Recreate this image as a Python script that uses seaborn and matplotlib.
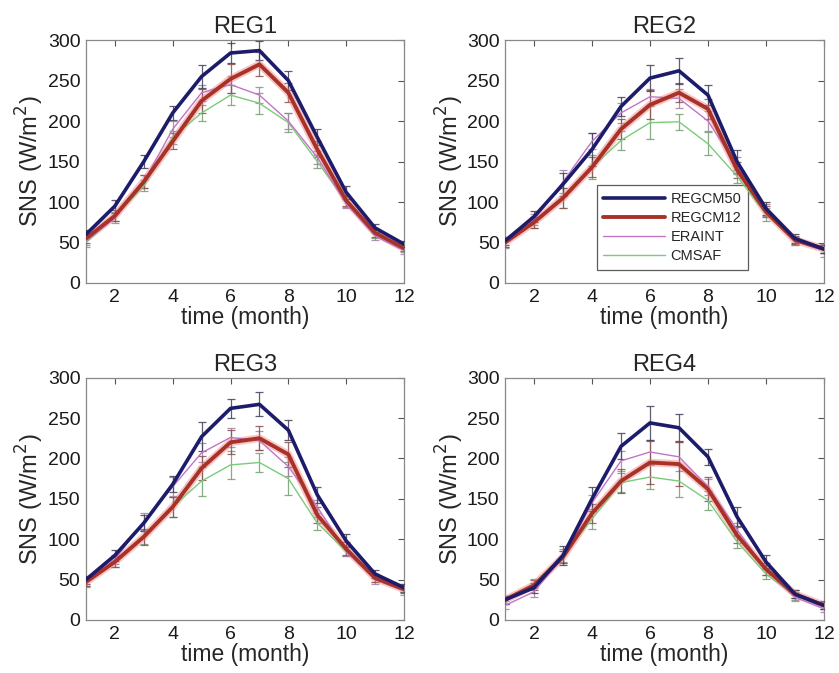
import numpy as np
import pandas as pd
import matplotlib
matplotlib.use("Agg")
import matplotlib.pyplot as plt
import seaborn as sns

# monthly SNS (W/m2) per region
months = np.arange(1, 13)
regions = ["REG1", "REG2", "REG3", "REG4"]
series = ["REGCM50", "REGCM12", "ERAINT", "CMSAF"]

reg1_regcm50 = [60, 95, 150, 210, 255, 284, 287, 250, 180, 112, 68, 48]
reg1_regcm12 = [55, 83, 125, 175, 225, 252, 270, 235, 165, 102, 62, 43]
reg1_eraint = [52, 80, 125, 190, 235, 245, 232, 200, 155, 98, 58, 40]
reg1_cmsaf = [50, 82, 120, 180, 210, 232, 222, 198, 150, 100, 60, 42]

reg2_regcm50 = [52, 82, 122, 165, 218, 253, 262, 232, 150, 92, 55, 42]
reg2_regcm12 = [50, 75, 105, 143, 190, 220, 235, 215, 140, 88, 53, 42]
reg2_eraint = [48, 78, 125, 175, 210, 230, 228, 200, 145, 90, 52, 40]
reg2_cmsaf = [50, 75, 105, 143, 176, 198, 199, 172, 132, 85, 52, 42]

reg3_regcm50 = [50, 80, 120, 168, 227, 262, 267, 235, 155, 98, 57, 40]
reg3_regcm12 = [47, 72, 103, 140, 188, 220, 225, 205, 130, 88, 52, 38]
reg3_eraint = [46, 75, 122, 165, 207, 226, 222, 190, 140, 85, 50, 36]
reg3_cmsaf = [47, 72, 102, 140, 172, 192, 195, 175, 120, 85, 52, 40]

reg4_regcm50 = [25, 40, 80, 150, 215, 244, 238, 202, 128, 72, 32, 18]
reg4_regcm12 = [25, 43, 78, 132, 172, 195, 193, 162, 105, 63, 32, 18]
reg4_eraint = [18, 35, 78, 145, 197, 208, 202, 165, 112, 62, 28, 14]
reg4_cmsaf = [25, 45, 80, 125, 170, 177, 172, 148, 97, 57, 30, 18]

# error bar half-widths
reg1_err = [[5, 8, 8, 9, 14, 12, 12, 12, 10, 8, 5, 4],
            [5, 7, 8, 10, 15, 18, 15, 12, 10, 7, 5, 4],
            [5, 6, 8, 10, 10, 10, 10, 10, 8, 6, 5, 4],
            [5, 6, 7, 8, 10, 12, 13, 12, 8, 6, 5, 4]]
reg2_err = [[5, 7, 14, 20, 12, 16, 16, 12, 14, 8, 5, 5],
            [5, 7, 12, 12, 12, 18, 12, 12, 10, 7, 5, 5],
            [5, 7, 14, 10, 12, 10, 12, 12, 10, 7, 5, 8],
            [5, 7, 12, 15, 12, 20, 10, 14, 8, 8, 5, 5]]
reg3_err = [[5, 7, 10, 10, 18, 12, 15, 12, 10, 8, 5, 5],
            [5, 7, 10, 12, 15, 15, 15, 15, 10, 8, 5, 5],
            [5, 6, 10, 12, 12, 12, 12, 12, 8, 6, 5, 5],
            [5, 6, 8, 12, 18, 17, 12, 20, 8, 6, 5, 5]]
reg4_err = [[5, 6, 12, 15, 16, 21, 17, 10, 12, 8, 5, 5],
            [5, 6, 8, 12, 15, 27, 27, 15, 10, 7, 5, 4],
            [5, 6, 8, 10, 12, 15, 18, 10, 8, 6, 5, 4],
            [5, 6, 8, 12, 12, 15, 20, 12, 8, 6, 5, 4]]

values = {
    "REG1": [reg1_regcm50, reg1_regcm12, reg1_eraint, reg1_cmsaf],
    "REG2": [reg2_regcm50, reg2_regcm12, reg2_eraint, reg2_cmsaf],
    "REG3": [reg3_regcm50, reg3_regcm12, reg3_eraint, reg3_cmsaf],
    "REG4": [reg4_regcm50, reg4_regcm12, reg4_eraint, reg4_cmsaf],
}
errors = {"REG1": reg1_err, "REG2": reg2_err, "REG3": reg3_err, "REG4": reg4_err}

colors = {"REGCM50": "#1c1c6b", "REGCM12": "#a83228", "ERAINT": "#c275c8", "CMSAF": "#7acb7a"}
widths = {"REGCM50": 2.6, "REGCM12": 2.8, "ERAINT": 1.0, "CMSAF": 1.0}
ecolors = {"REGCM50": "#40405a", "REGCM12": "#8a5050", "ERAINT": "#a080a8", "CMSAF": "#70a070"}

sns.set_style("white")
plt.rcParams["font.family"] = ["Liberation Sans", "DejaVu Sans"]

fig = plt.figure(figsize=(8.39, 6.73), dpi=100)
positions = {
    "REG1": [0.1025, 0.5795, 0.379, 0.361],
    "REG2": [0.602, 0.5795, 0.380, 0.361],
    "REG3": [0.1025, 0.0788, 0.379, 0.360],
    "REG4": [0.602, 0.0788, 0.380, 0.360],
}

for reg in regions:
    ax = fig.add_axes(positions[reg])
    rows = []
    for s, vals in zip(series, values[reg]):
        for m, v in zip(months, vals):
            rows.append({"month": m, "SNS": v, "model": s})
    df = pd.DataFrame(rows)
    # draw thin series first, thick ones on top
    for i in [3, 2, 1, 0]:
        s = series[i]
        ax.errorbar(months, values[reg][i], yerr=errors[reg][i], fmt="none",
                    ecolor=ecolors[s], elinewidth=0.9, capsize=3, capthick=0.9,
                    alpha=0.85, zorder=2 + (3 - i))
    for i in [3, 2, 1, 0]:
        s = series[i]
        sub = df[df["model"] == s]
        if s == "REGCM12":
            # soft reddish halo around the REGCM12 line
            sns.lineplot(data=sub, x="month", y="SNS", ax=ax, color="#f08080",
                         linewidth=5.5, alpha=0.45, legend=False, zorder=5)
        sns.lineplot(data=sub, x="month", y="SNS", ax=ax, color=colors[s],
                     linewidth=widths[s], label=s, legend=False, zorder=6 + (3 - i))

    ax.set_xlim(1, 12)
    ax.set_ylim(0, 300)
    ax.set_xticks([2, 4, 6, 8, 10, 12])
    ax.set_yticks(np.arange(0, 301, 50))
    ax.tick_params(direction="in", top=True, right=True, labelsize=14,
                   length=4, width=0.8, color="#555555", pad=4,
                   labelcolor="#1a1a1a")
    for sp in ax.spines.values():
        sp.set_color("#888888")
        sp.set_linewidth(0.9)
    ax.set_title(reg, fontsize=17, pad=5)
    ax.set_xlabel("time (month)", fontsize=16.5, labelpad=0)
    ax.set_ylabel("SNS (W/m$^2$)", fontsize=17, labelpad=1)

    if reg == "REG2":
        handles, labels = ax.get_legend_handles_labels()
        order = [labels.index(s) for s in series]
        leg = ax.legend([handles[k] for k in order], [labels[k] for k in order],
                        loc="lower left", bbox_to_anchor=(0.265, 0.025),
                        fontsize=10.5, frameon=True, fancybox=False,
                        handlelength=4.2, borderpad=0.45, labelspacing=0.35,
                        handletextpad=0.4)
        leg.get_frame().set_edgecolor("#333333")
        leg.get_frame().set_linewidth(0.9)

fig.savefig("out.png", dpi=100)
